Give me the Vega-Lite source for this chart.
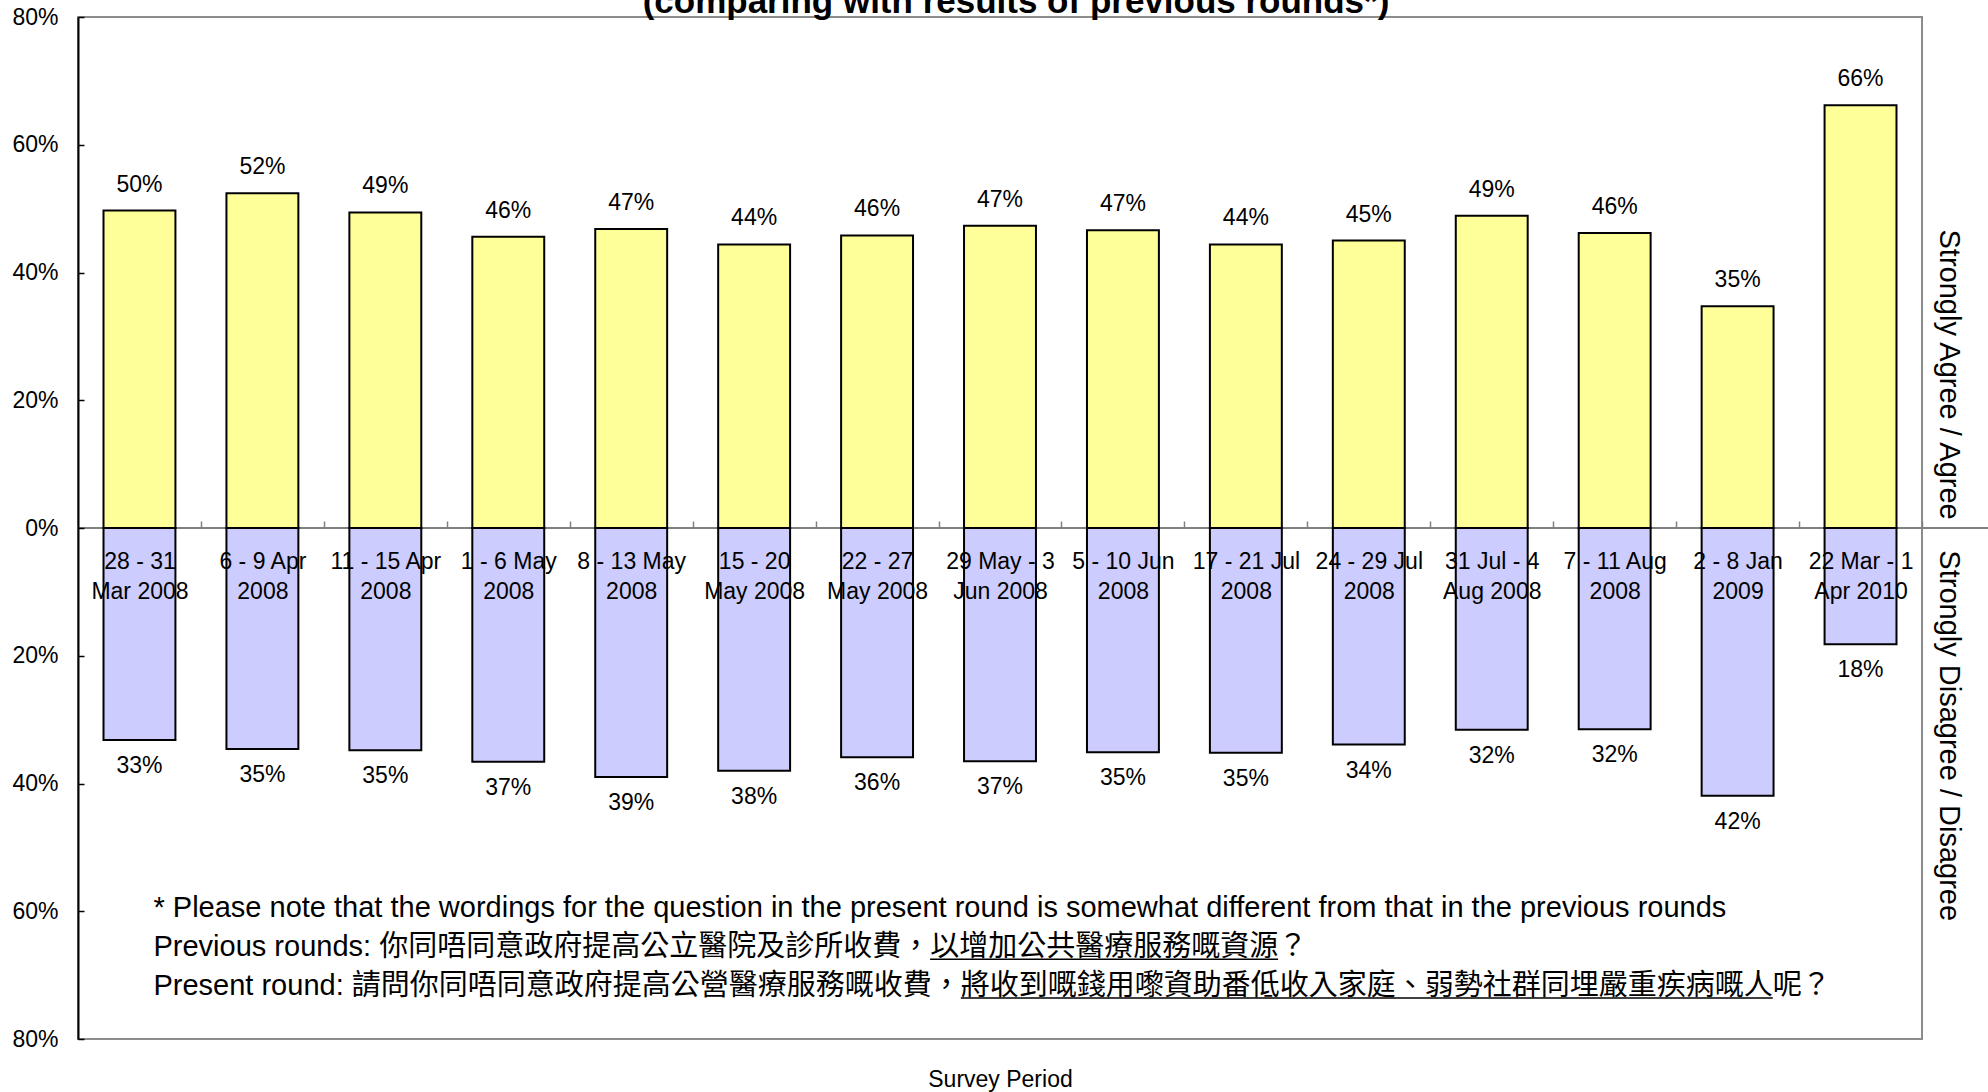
{
  "$schema": "https://vega.github.io/schema/vega-lite/v6.json",
  "width": 1844,
  "height": 1022,
  "autosize": {"type": "none"},
  "padding": {"left": 78, "top": 17, "right": 66, "bottom": 53},
  "background": "white",
  "config": {"view": {"stroke": "#8c8c8c", "strokeWidth": 2}, "font": "Liberation Sans"},
  "data": {"values": [
    {"period": "28 - 31|Mar 2008", "side": "Agree", "value": 49.7, "label": "50%"},
    {"period": "6 - 9 Apr|2008", "side": "Agree", "value": 52.4, "label": "52%"},
    {"period": "11 - 15 Apr|2008", "side": "Agree", "value": 49.4, "label": "49%"},
    {"period": "1 - 6 May|2008", "side": "Agree", "value": 45.6, "label": "46%"},
    {"period": "8 - 13 May|2008", "side": "Agree", "value": 46.8, "label": "47%"},
    {"period": "15 - 20|May 2008", "side": "Agree", "value": 44.4, "label": "44%"},
    {"period": "22 - 27|May 2008", "side": "Agree", "value": 45.8, "label": "46%"},
    {"period": "29 May - 3|Jun 2008", "side": "Agree", "value": 47.3, "label": "47%"},
    {"period": "5 - 10 Jun|2008", "side": "Agree", "value": 46.6, "label": "47%"},
    {"period": "17 - 21 Jul|2008", "side": "Agree", "value": 44.4, "label": "44%"},
    {"period": "24 - 29 Jul|2008", "side": "Agree", "value": 45.0, "label": "45%"},
    {"period": "31 Jul - 4|Aug 2008", "side": "Agree", "value": 48.9, "label": "49%"},
    {"period": "7 - 11 Aug|2008", "side": "Agree", "value": 46.2, "label": "46%"},
    {"period": "2 - 8 Jan|2009", "side": "Agree", "value": 34.7, "label": "35%"},
    {"period": "22 Mar - 1|Apr 2010", "side": "Agree", "value": 66.2, "label": "66%"},
    {"period": "28 - 31|Mar 2008", "side": "Disagree", "value": -33.2, "label": "33%"},
    {"period": "6 - 9 Apr|2008", "side": "Disagree", "value": -34.6, "label": "35%"},
    {"period": "11 - 15 Apr|2008", "side": "Disagree", "value": -34.8, "label": "35%"},
    {"period": "1 - 6 May|2008", "side": "Disagree", "value": -36.6, "label": "37%"},
    {"period": "8 - 13 May|2008", "side": "Disagree", "value": -39.0, "label": "39%"},
    {"period": "15 - 20|May 2008", "side": "Disagree", "value": -38.0, "label": "38%"},
    {"period": "22 - 27|May 2008", "side": "Disagree", "value": -35.9, "label": "36%"},
    {"period": "29 May - 3|Jun 2008", "side": "Disagree", "value": -36.5, "label": "37%"},
    {"period": "5 - 10 Jun|2008", "side": "Disagree", "value": -35.1, "label": "35%"},
    {"period": "17 - 21 Jul|2008", "side": "Disagree", "value": -35.2, "label": "35%"},
    {"period": "24 - 29 Jul|2008", "side": "Disagree", "value": -33.9, "label": "34%"},
    {"period": "31 Jul - 4|Aug 2008", "side": "Disagree", "value": -31.6, "label": "32%"},
    {"period": "7 - 11 Aug|2008", "side": "Disagree", "value": -31.5, "label": "32%"},
    {"period": "2 - 8 Jan|2009", "side": "Disagree", "value": -41.9, "label": "42%"},
    {"period": "22 Mar - 1|Apr 2010", "side": "Disagree", "value": -18.2, "label": "18%"}
  ]},
  "layer": [
    {
      "data": {"values": [{}]},
      "mark": {"type": "rule", "color": "#808080", "strokeWidth": 2, "xOffset": -61.5, "x2Offset": 127.5},
      "encoding": {
        "x": {"datum": "28 - 31|Mar 2008"},
        "x2": {"datum": "22 Mar - 1|Apr 2010"},
        "y": {"datum": 0}
      }
    },
    {
      "mark": {"type": "bar", "stroke": "black", "strokeWidth": 2, "opacity": 1},
      "encoding": {
        "x": {
          "field": "period", "type": "nominal",
          "scale": {
            "domain": ["28 - 31|Mar 2008", "6 - 9 Apr|2008", "11 - 15 Apr|2008", "1 - 6 May|2008", "8 - 13 May|2008", "15 - 20|May 2008", "22 - 27|May 2008", "29 May - 3|Jun 2008", "5 - 10 Jun|2008", "17 - 21 Jul|2008", "24 - 29 Jul|2008", "31 Jul - 4|Aug 2008", "7 - 11 Aug|2008", "2 - 8 Jan|2009", "22 Mar - 1|Apr 2010"],
            "paddingInner": 0.415, "paddingOuter": 0.2075
          },
          "axis": {
            "title": "Survey Period",
            "titleFont": "Liberation Sans", "titleFontSize": 23, "titleFontWeight": "normal", "titleColor": "black",
            "titleY": 558, "titleBaseline": "alphabetic",
            "offset": -511,
            "domain": false,
            "ticks": true, "tickSize": -7, "tickColor": "#808080", "tickWidth": 1.5, "tickOffset": 61.5,
            "labelExpr": "split(datum.label, '|')",
            "labelFont": "Liberation Sans", "labelFontSize": 23, "labelColor": "black",
            "labelAngle": 0, "labelAlign": "center", "labelOffset": -61.5,
            "labelBaseline": "top", "labelLineHeight": 30.5,
            "labelPadding": 29, "labelOverlap": false, "labelLimit": 400, "labelBound": false, "labelFlush": false,
            "zindex": 1
          }
        },
        "y": {
          "field": "value", "type": "quantitative",
          "scale": {"domain": [-80, 80], "nice": false},
          "axis": {
            "title": null,
            "values": [-80, -60, -40, -20, 0, 20, 40, 60, 80],
            "labelExpr": "abs(datum.value) + '%'",
            "grid": false,
            "domainColor": "black", "domainWidth": 2,
            "tickColor": "black", "tickSize": -6, "tickWidth": 1.5,
            "labelFont": "Liberation Sans", "labelFontSize": 23, "labelColor": "black",
            "labelPadding": 26,
            "zindex": 1
          }
        },
        "color": {
          "field": "side", "type": "nominal",
          "scale": {"domain": ["Agree", "Disagree"], "range": ["#FFFF99", "#CCCCFF"]},
          "legend": null
        }
      }
    },
    {
      "transform": [{"filter": "datum.side === 'Agree'"}],
      "mark": {"type": "text", "fontSize": 23, "font": "Liberation Sans", "color": "black", "baseline": "alphabetic", "align": "center", "dy": -19},
      "encoding": {
        "x": {"field": "period", "type": "nominal"},
        "y": {"field": "value", "type": "quantitative"},
        "text": {"field": "label"}
      }
    },
    {
      "transform": [{"filter": "datum.side === 'Disagree'"}],
      "mark": {"type": "text", "fontSize": 23, "font": "Liberation Sans", "color": "black", "baseline": "alphabetic", "align": "center", "dy": 33},
      "encoding": {
        "x": {"field": "period", "type": "nominal"},
        "y": {"field": "value", "type": "quantitative"},
        "text": {"field": "label"}
      }
    },
    {
      "data": {"values": [{"t": "(comparing with results of previous rounds*)"}]},
      "mark": {"type": "text", "fontSize": 35, "fontWeight": "bold", "font": "Liberation Sans", "color": "black", "align": "center", "baseline": "alphabetic", "dx": 16, "dy": -4.5},
      "encoding": {
        "x": {"datum": "29 May - 3|Jun 2008"},
        "y": {"datum": 80},
        "text": {"field": "t"}
      }
    },
    {
      "data": {"values": [{}]},
      "mark": {
        "type": "text",
        "text": [
          "* Please note that the wordings for the question in the present round is somewhat different from that in the previous rounds",
          "Previous rounds: 你同唔同意政府提高公立醫院及診所收費，以增加公共醫療服務嘅資源？",
          "Present round: 請問你同唔同意政府提高公營醫療服務嘅收費，將收到嘅錢用嚟資助番低收入家庭、弱勢社群同埋嚴重疾病嘅人呢？"
        ],
        "fontSize": 29, "font": "Liberation Sans, Noto Sans CJK TC", "color": "black",
        "align": "left", "baseline": "alphabetic", "lineHeight": 38.7, "dx": 14, "dy": 6
      },
      "encoding": {
        "x": {"datum": "28 - 31|Mar 2008"},
        "y": {"datum": -60}
      }
    },
    {
      "data": {"values": [{}]},
      "mark": {"type": "rule", "color": "black", "strokeWidth": 1.5, "xOffset": 790.6, "x2Offset": 1138.6, "yOffset": 48},
      "encoding": {
        "x": {"datum": "28 - 31|Mar 2008"},
        "x2": {"datum": "28 - 31|Mar 2008"},
        "y": {"datum": -60}
      }
    },
    {
      "data": {"values": [{}]},
      "mark": {"type": "rule", "color": "black", "strokeWidth": 1.5, "xOffset": 821.3, "x2Offset": 1633.3, "yOffset": 86.7},
      "encoding": {
        "x": {"datum": "28 - 31|Mar 2008"},
        "x2": {"datum": "28 - 31|Mar 2008"},
        "y": {"datum": -60}
      }
    },
    {
      "data": {"values": [{"t": "Strongly Agree / Agree"}]},
      "mark": {"type": "text", "angle": 90, "fontSize": 29, "font": "Liberation Sans", "color": "black", "align": "right", "baseline": "middle", "dy": -88},
      "encoding": {
        "x": {"datum": "22 Mar - 1|Apr 2010"},
        "y": {"datum": 1.3},
        "text": {"field": "t"}
      }
    },
    {
      "data": {"values": [{"t": "Strongly Disagree / Disagree"}]},
      "mark": {"type": "text", "angle": 90, "fontSize": 29, "font": "Liberation Sans", "color": "black", "align": "left", "baseline": "middle", "dy": -88},
      "encoding": {
        "x": {"datum": "22 Mar - 1|Apr 2010"},
        "y": {"datum": -3.5},
        "text": {"field": "t"}
      }
    }
  ]
}
